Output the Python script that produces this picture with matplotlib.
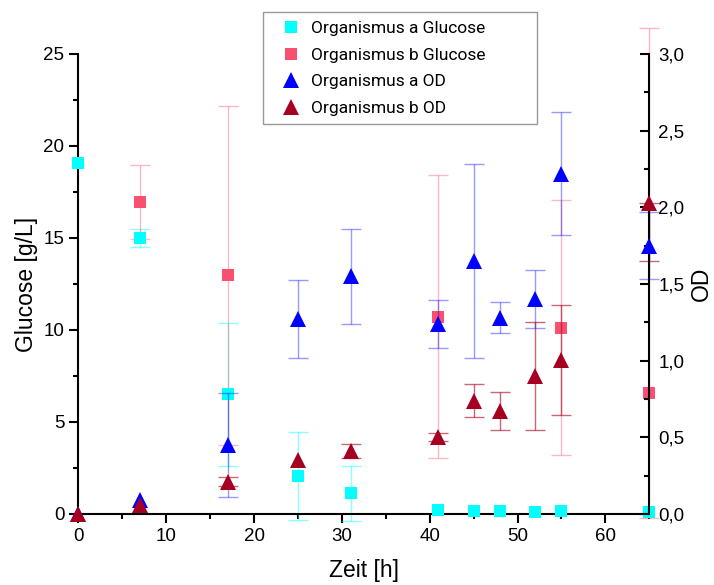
import numpy as np
import matplotlib
matplotlib.use("Agg")
import matplotlib.pyplot as plt
from matplotlib.lines import Line2D
from matplotlib.ticker import MultipleLocator, FuncFormatter

plt.rcParams['font.family'] = ['Liberation Sans', 'DejaVu Sans']

# Zeitpunkte [h]
zeit = [0, 7, 17, 25, 31, 41, 45, 48, 52, 55, 65]

# Organismus a Glucose [g/L]
glc_a = [19.1, 15.0, 6.5, 2.07, 1.12, 0.2, 0.15, 0.15, 0.1, 0.18, 0.12]
glc_a_err = [0, 0.5, 3.9, 2.4, 1.5, 0, 0, 0, 0, 0, 0]

# Organismus b Glucose [g/L]
zeit_b_glc = [7, 17, 41, 55, 65]
glc_b = [16.97, 12.97, 10.72, 10.13, 6.6]
glc_b_err_lo = [2.0, 9.2, 7.7, 6.95, 6.8]
glc_b_err_hi = [2.0, 9.2, 7.7, 6.95, 19.8]

# OD
od_a = [0.0, 0.09, 0.45, 1.27, 1.55, 1.24, 1.65, 1.28, 1.40, 2.22, 1.75]
od_a_err = [0, 0, 0.34, 0.255, 0.31, 0.155, 0.63, 0.1, 0.19, 0.4, 0.22]
od_b = [0.0, 0.06, 0.21, 0.35, 0.41, 0.50, 0.74, 0.67, 0.90, 1.005, 2.03]
od_b_err_lo = [0, 0, 0.03, 0, 0.045, 0.025, 0.11, 0.125, 0.35, 0.36, 0.38]
od_b_err_hi = [0, 0, 0.03, 0, 0.045, 0.025, 0.11, 0.125, 0.35, 0.36, 0.0]

labels = ['Organismus a Glucose', 'Organismus b Glucose',
          'Organismus a OD', 'Organismus b OD']

c_cyan = '#00FFFF'
c_pink = '#F9506F'
c_blue = '#0000FF'
c_wine = '#A50021'


def draw(ax, x, y, lo, hi, color, alpha, marker, ms):
    x = np.asarray(x, float)
    y = np.asarray(y, float)
    lo = np.asarray(lo, float)
    hi = np.asarray(hi, float)
    m = (lo > 0) | (hi > 0)
    if m.any():
        eb = ax.errorbar(x[m], y[m], yerr=[lo[m], hi[m]], fmt='none',
                         ecolor=color, alpha=alpha, elinewidth=1.0,
                         capsize=7, capthick=1.0)
        for art in eb.get_children():
            art.set_clip_on(False)
    ax.plot(x, y, linestyle='none', marker=marker, markersize=ms,
            color=color, markeredgewidth=0, clip_on=False, zorder=3)


fig = plt.figure(figsize=(7.14, 5.85), dpi=100)
ax = fig.add_axes([0.1097, 0.1214, 0.7997, 0.7863])
ax2 = ax.twinx()

draw(ax, zeit, glc_a, glc_a_err, glc_a_err, c_cyan, 0.45, 's', 9)
draw(ax, zeit_b_glc, glc_b, glc_b_err_lo, glc_b_err_hi, c_pink, 0.4, 's', 9)
draw(ax2, zeit, od_a, od_a_err, od_a_err, c_blue, 0.4, '^', 11)
draw(ax2, zeit, od_b, od_b_err_lo, od_b_err_hi, c_wine, 0.6, '^', 11)

ax.set_xlim(0, 65)
ax.set_ylim(0, 25)
ax2.set_ylim(0, 3.0)

for a in (ax, ax2):
    a.spines['top'].set_visible(False)
    for s in a.spines.values():
        s.set_linewidth(1.5)
ax.spines['right'].set_visible(False)
ax2.spines['left'].set_visible(False)
ax2.spines['bottom'].set_visible(False)

ax.xaxis.set_major_locator(MultipleLocator(10))
ax.xaxis.set_minor_locator(MultipleLocator(5))
ax.yaxis.set_major_locator(MultipleLocator(5))
ax.yaxis.set_minor_locator(MultipleLocator(2.5))
ax2.yaxis.set_major_locator(MultipleLocator(0.5))
ax2.yaxis.set_minor_locator(MultipleLocator(0.25))
ax2.yaxis.set_major_formatter(FuncFormatter(lambda v, p: f"{v:.1f}".replace('.', ',')))

ax.tick_params(which='major', direction='out', length=6.5, width=1.5, labelsize=13.5)
ax.tick_params(which='minor', direction='out', length=3.5, width=1.5)
ax2.tick_params(which='major', direction='in', length=6.5, width=1.5, labelsize=13.5, pad=6.5)
ax2.tick_params(which='minor', direction='in', length=3.5, width=1.5)

ax.set_xlabel('Zeit [h]', fontsize=16.5)
ax.set_ylabel('Glucose [g/L]', fontsize=16.5)
ax2.set_ylabel('OD', fontsize=16.5)
ax.xaxis.set_label_coords(0.5, -0.097)
ax.yaxis.set_label_coords(-0.07, 0.5)
ax2.yaxis.set_label_coords(1.071, 0.5)

handles = [
    Line2D([], [], linestyle='none', marker='s', markersize=9, color=c_cyan, markeredgewidth=0),
    Line2D([], [], linestyle='none', marker='s', markersize=9, color=c_pink, markeredgewidth=0),
    Line2D([], [], linestyle='none', marker='^', markersize=11, color=c_blue, markeredgewidth=0),
    Line2D([], [], linestyle='none', marker='^', markersize=11, color=c_wine, markeredgewidth=0),
]
leg = ax2.legend(handles, labels, loc='upper left',
                 bbox_to_anchor=(0.3235, 1.091, 0.48, 0.0), mode='expand',
                 prop={'family': 'Roboto', 'size': 12.5}, frameon=True, fancybox=False,
                 framealpha=1, edgecolor='#999999', borderpad=0.5, labelspacing=0.66,
                 handlelength=2.2, handletextpad=0.05, borderaxespad=0)
leg.get_frame().set_linewidth(1.0)

fig.savefig('out.png', dpi=100)
